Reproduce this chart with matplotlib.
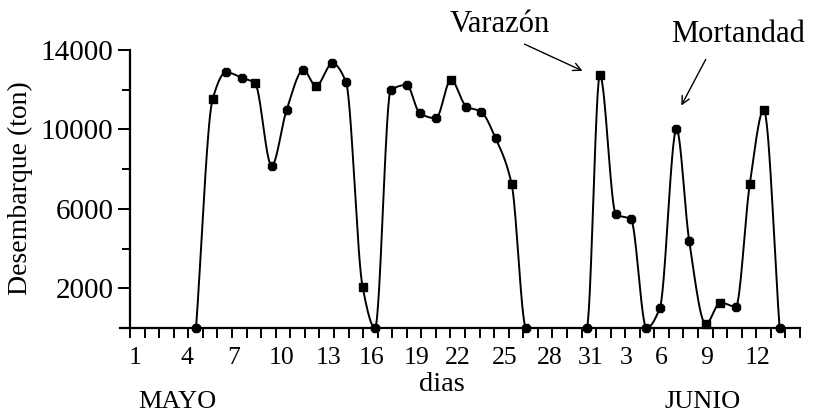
import numpy as np
import matplotlib
matplotlib.use("Agg")
import matplotlib.pyplot as plt

# -----------------------------
# Data
# -----------------------------
# x in day-tick units, 0 = y axis (1 de mayo)
dia = [4.53, 5.67, 6.59, 7.66, 8.58, 9.72, 10.75, 11.9, 12.77, 13.9, 14.82,
       15.97, 16.82, 17.9, 18.99, 19.9, 21.0, 22.03, 23.1, 24.09, 25.1, 26.2,
       27.2, 31.35, 32.26, 33.36, 34.39, 35.46, 36.38, 37.52, 38.39, 39.53,
       40.54, 41.59, 42.55, 43.51, 44.6]
desembarque = [0, 11530, 12880, 12610, 12320, 8170, 10980, 12990, 12190, 13330,
               12400, 2050, 0, 11990, 12240, 10810, 10560, 12490, 11150, 10900,
               9550, 7250, 0, 0, 12740, 5730, 5470, 0, 1020, 10010, 4400, 200,
               1280, 1070, 7240, 10980, 0]

tick_labels = ["1", "4", "7", "10", "13", "16", "19", "22", "25", "28",
               "31", "3", "6", "9", "12"]
tick_label_pos = [0.34, 3.9, 7.1, 10.4, 13.6, 16.6, 19.7, 22.5, 25.7, 28.8,
                  31.6, 34.1, 36.5, 39.6, 43.1]

# which markers look square in the original
square_idx = [1, 4, 8, 11, 17, 21, 24, 31, 32, 34, 35]

SERIF = ["Liberation Serif", "DejaVu Serif"]
W, H = 815, 419


def smooth_curve(x, y, n=30):
    """Monotone cubic (Fritsch-Carlson) through the points, no overshoot."""
    x = np.asarray(x, float)
    y = np.asarray(y, float)
    h = np.diff(x)
    d = np.diff(y) / h
    m = np.zeros_like(y)
    for k in range(1, len(x) - 1):
        if d[k - 1] * d[k] > 0:
            w1 = 2 * h[k] + h[k - 1]
            w2 = h[k] + 2 * h[k - 1]
            m[k] = (w1 + w2) / (w1 / d[k - 1] + w2 / d[k])
    m[0] = d[0]
    m[-1] = d[-1]
    xs, ys = [], []
    for i in range(len(x) - 1):
        t = np.linspace(0, 1, n, endpoint=False)
        h00 = 2 * t**3 - 3 * t**2 + 1
        h10 = t**3 - 2 * t**2 + t
        h01 = -2 * t**3 + 3 * t**2
        h11 = t**3 - t**2
        xs.append(x[i] + t * h[i])
        ys.append(h00 * y[i] + h10 * h[i] * m[i] + h01 * y[i + 1] + h11 * h[i] * m[i + 1])
    xs.append([x[-1]])
    ys.append([y[-1]])
    return np.concatenate(xs), np.maximum(np.concatenate(ys), 0)


def px(x, y):
    return x / W, 1 - y / H


fig = plt.figure(figsize=(W / 100, H / 100), dpi=100)
ax = fig.add_axes([120 / W, (H - 328) / H, 680 / W, 278 / H])
ax.set_xlim(-0.69, 46.0)
ax.set_ylim(0, 14000)

for s in ["top", "right"]:
    ax.spines[s].set_visible(False)
ax.spines["left"].set_position(("data", 0))
ax.spines["left"].set_linewidth(1.6)
ax.spines["bottom"].set_linewidth(1.6)

# curve + markers
xs, ys = smooth_curve(dia, desembarque)
ax.plot(xs, ys, color="black", lw=1.4, clip_on=False, zorder=3)
dia_a = np.array(dia)
val_a = np.array(desembarque)
mask = np.zeros(len(dia), bool)
mask[square_idx] = True
ax.plot(dia_a[~mask], val_a[~mask], "8", color="black", ms=6.5, clip_on=False, zorder=4)
ax.plot(dia_a[mask], val_a[mask], "s", color="black", ms=5.5, clip_on=False, zorder=4)

# y ticks
ax.set_yticks([2000, 6000, 10000, 14000])
ax.set_yticks([4000, 8000, 12000], minor=True)
ax.tick_params(axis="y", which="major", direction="out", length=9, width=1.4,
               labelsize=21, pad=3)
ax.tick_params(axis="y", which="minor", direction="out", length=6, width=1.4)
for lab in ax.get_yticklabels():
    lab.set_family(SERIF)

# x ticks: one per day, labels placed where they sit in the picture
ax.set_xticks(np.arange(0, 47), minor=True)
ax.set_xticks([])
ax.tick_params(axis="x", which="minor", direction="out", length=7, width=1.4)
for lab, pos in zip(tick_labels, tick_label_pos):
    ax.text(pos, -950, lab, ha="center", va="top", fontsize=18.5,
            family=SERIF, clip_on=False)

# labels
fig.text(*px(20, 188), "Desembarque (ton)", rotation=90, ha="center", va="center",
         fontsize=20, family=SERIF)
fig.text(*px(442, 384), "dias", ha="center", va="center", fontsize=20.5, family=SERIF)
fig.text(*px(177, 402), "MAYO", ha="center", va="center", fontsize=19, family=SERIF)
fig.text(*px(703, 402), "JUNIO", ha="center", va="center", fontsize=19, family=SERIF)

# annotations
fig.text(*px(500, 24), "Varazón", ha="center", va="center", fontsize=22, family=SERIF)
fig.text(*px(738, 35), "Mortandad", ha="center", va="center", fontsize=22, family=SERIF)
fig.add_artist(matplotlib.patches.FancyArrowPatch(
    px(522, 43), px(585, 72), transform=fig.transFigure, arrowstyle="->",
    mutation_scale=14, lw=1.0, color="black"))
fig.add_artist(matplotlib.patches.FancyArrowPatch(
    px(707, 57), px(680, 108), transform=fig.transFigure, arrowstyle="->",
    mutation_scale=14, lw=1.0, color="black"))

fig.savefig("out.png", dpi=100)
